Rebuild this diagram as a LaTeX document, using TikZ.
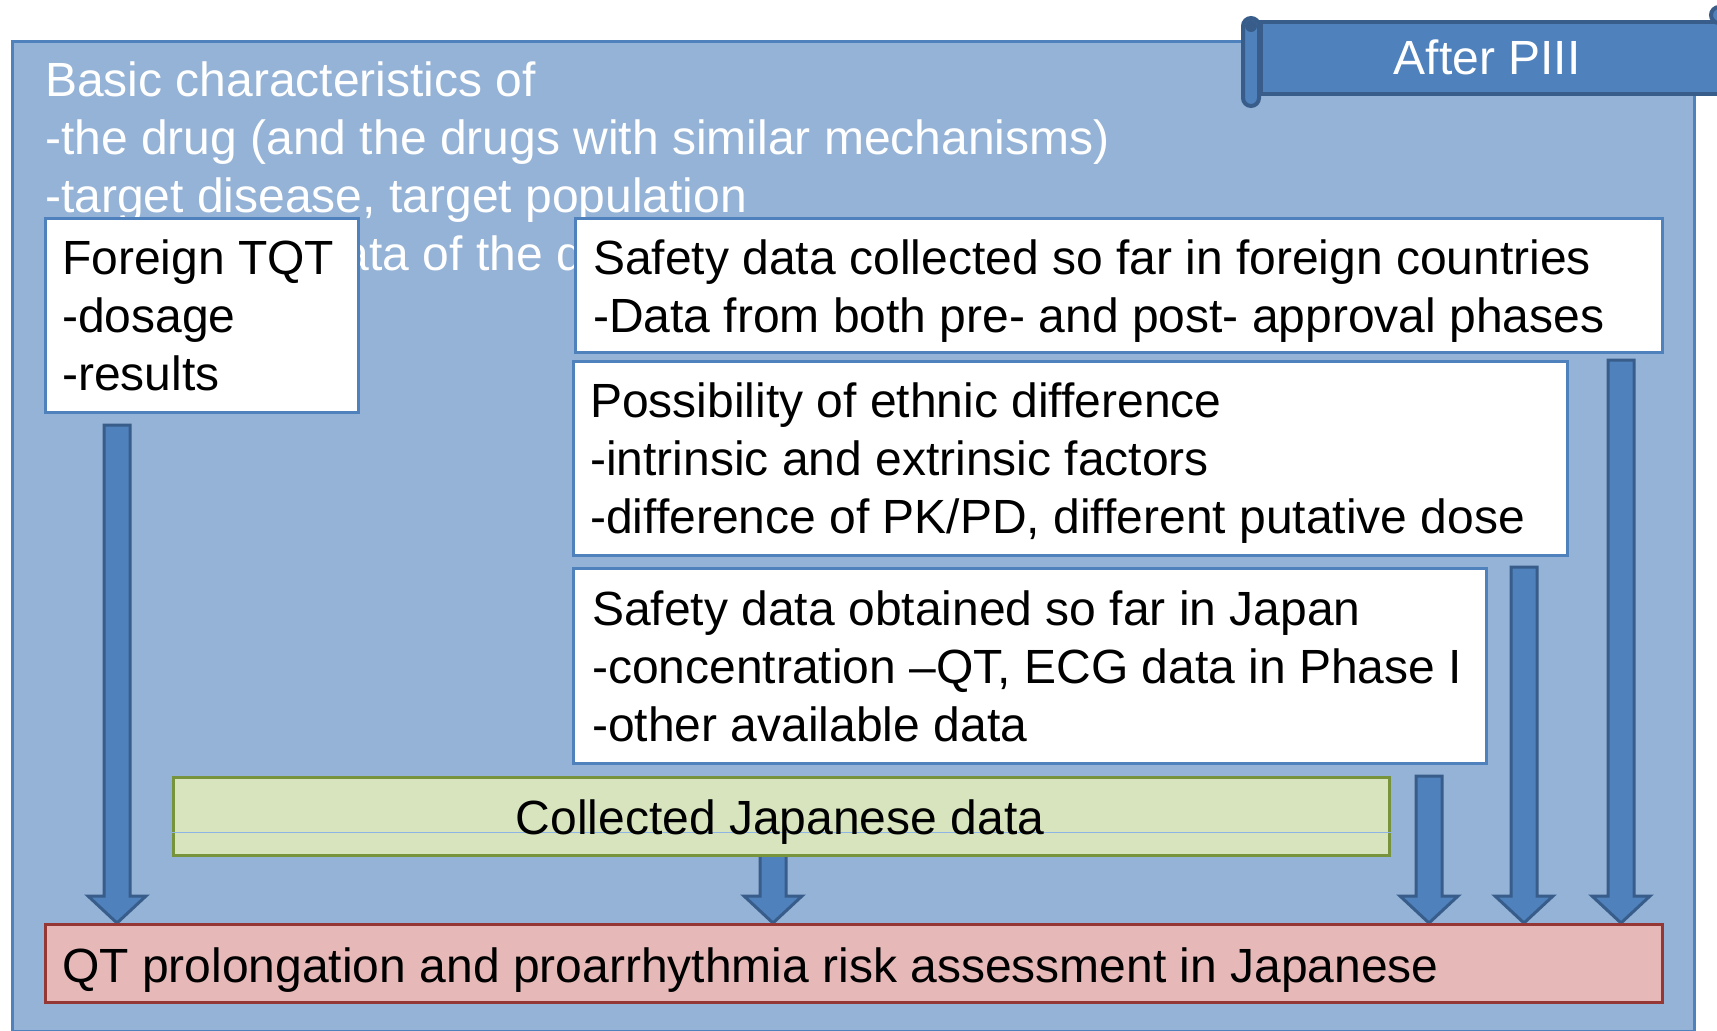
\documentclass[tikz,border=0pt]{standalone}
\usepackage{fontspec}
\setmainfont{Liberation Sans}
\usetikzlibrary{calc}

\definecolor{panelfill}{HTML}{95B3D7}
\definecolor{panelline}{HTML}{4F81BD}
\definecolor{arrowfill}{HTML}{4F81BD}
\definecolor{arrowline}{HTML}{385D8A}
\definecolor{greenfill}{HTML}{D7E4BD}
\definecolor{greenline}{HTML}{77933C}
\definecolor{redfill}{HTML}{E6B9B8}
\definecolor{redline}{HTML}{953735}
\definecolor{guideline}{HTML}{8EB4E3}

\newcommand\bigfont{\fontsize{48}{58}\selectfont}
\newcommand\linestack[1]{\begin{tabular}[t]{@{}l@{}}#1\end{tabular}}

% thick outlined block arrow from #1 down to the tip #2
\newcommand\blockarrow[2]{%
  \path[blockarrow] let \p1=(#1), \p2=(#2) in
    (\x1-13pt,\y1) -- (\x1+13pt,\y1) -- (\x1+13pt,\y2+27pt) -- (\x1+29pt,\y2+27pt)
    -- (\x1,\y2) -- (\x1-29pt,\y2+27pt) -- (\x1-13pt,\y2+27pt) -- cycle;}

\begin{document}
\begin{tikzpicture}[x=1pt,y=-1pt,
  panel/.style={draw=panelline, fill=panelfill, line width=3pt},
  whitebox/.style={draw=panelline, fill=white, line width=3pt, inner sep=0pt, anchor=north west},
  greenbox/.style={draw=greenline, fill=greenfill, line width=3pt, inner sep=0pt, anchor=north west},
  redbox/.style={draw=redline, fill=redfill, line width=3pt, inner sep=0pt, anchor=north west},
  tabpart/.style={draw=arrowline, fill=arrowfill, line width=4pt},
  blockarrow/.style={draw=arrowline, fill=arrowfill, line width=3pt, line join=miter},
  txt/.style={anchor=base west, inner sep=0pt, font=\bigfont},
]
\useasboundingbox (0,0) rectangle (1717,1031);

% background panel
\node[panel, inner sep=0pt, anchor=north west, minimum width=1682pt, minimum height=990pt] (panel) at (11,40) {};

% white heading text on the panel
\node[txt, text=white] (bc1) at (45,96) {Basic characteristics of};
\node[txt, text=white] (bc2) at (45,154) {-the drug (and the drugs with similar mechanisms)};
\node[txt, text=white] (bc3) at (45,212) {-target disease, target population};
\node[txt, text=white] (bc4) at (316,270) {data of the drug};

% scroll tab
\node[tabpart, inner sep=0pt, anchor=north west, minimum width=480pt, minimum height=72pt] (tab) at (1259,20) {};
\draw[tabpart, rounded corners=8pt] (1243,18) rectangle (1259,106);
\fill[arrowline] (1251,26) circle (6);
\draw[tabpart] (1719,15) circle (8);
\node[anchor=base, inner sep=0pt, font=\bigfont, text=white] (tabtext) at (1487,74) {After PIII};

% information boxes
\node[whitebox, minimum width=313pt, minimum height=194pt] (tqt) at (44,217) {};
\node[txt] (tqttext) at (62,274) {\linestack{Foreign TQT\\-dosage\\-results}};

\node[whitebox, minimum width=1087pt, minimum height=134pt] (foreign) at (574,217) {};
\node[txt] (foreigntext) at (593,274) {\linestack{Safety data collected so far in foreign countries\\-Data from both pre- and post- approval phases}};

\node[whitebox, minimum width=994pt, minimum height=194pt] (ethnic) at (572,360) {};
\node[txt] (ethnictext) at (590,417) {\linestack{Possibility of ethnic difference\\-intrinsic and extrinsic factors\\-difference of PK/PD, different putative dose}};

\node[whitebox, minimum width=913pt, minimum height=195pt] (japan) at (572,567) {};
\node[txt] (japantext) at (592,625) {\linestack{Safety data obtained so far in Japan\\-concentration –QT, ECG data in Phase I\\-other available data}};

% assessment box (placed first so arrow tips can refer to it)
\path (44,923) node[redbox, minimum width=1617pt, minimum height=78pt] (risk) {};

% arrows into the assessment box
\coordinate (a1) at (117,425);
\coordinate (a2) at (773,855);
\coordinate (a3) at (1429,776);
\coordinate (a4) at (1524,567);
\coordinate (a5) at (1621,360);
\blockarrow{a1}{a1 |- risk.north}
\blockarrow{a2}{a2 |- risk.north}
\blockarrow{a3}{a3 |- risk.north}
\blockarrow{a4}{a4 |- risk.north}
\blockarrow{a5}{a5 |- risk.north}

% collected Japanese data
\node[greenbox, minimum width=1216pt, minimum height=78pt] (jpdata) at (172,776) {};
\draw[guideline, line width=1pt] (jpdata.west |- 0,832) -- (jpdata.east |- 0,832);
\node[anchor=base, inner sep=0pt, font=\bigfont] (jpdatatext) at (780,834) {Collected Japanese data};

% assessment box on top
\node[redbox, minimum width=1617pt, minimum height=78pt] (riskbox) at (44,923) {};
\node[txt] (risktext) at (62,982) {QT prolongation and proarrhythmia risk assessment in Japanese};
\end{tikzpicture}
\end{document}
